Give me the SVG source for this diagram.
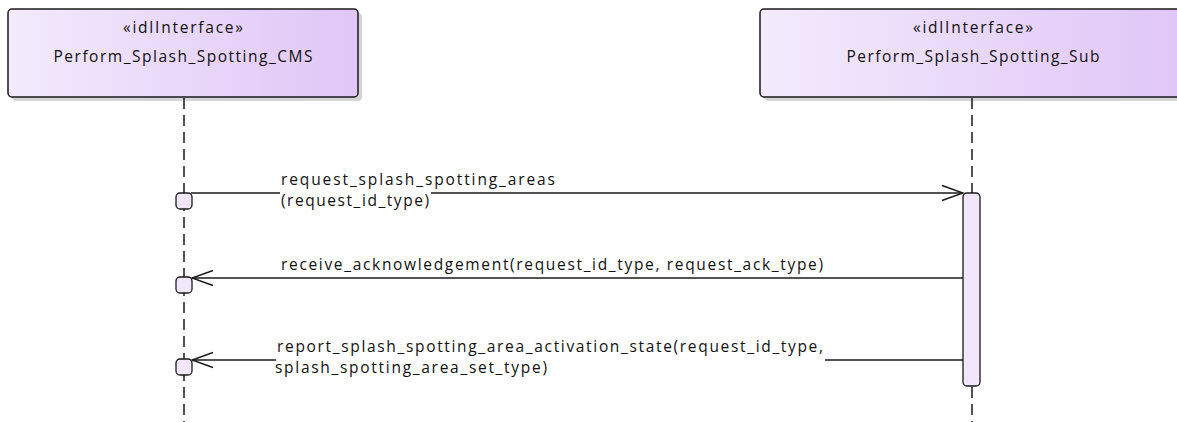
<svg xmlns="http://www.w3.org/2000/svg" width="1177" height="422" viewBox="0 0 1177 422">
<style>
.box{stroke:#1a1a1a;stroke-width:1.5}
.shadow{fill:#d4d4d4}
.life{stroke:#1a1a1a;stroke-width:1.5;stroke-dasharray:11 6;fill:none}
.msg{stroke:#1a1a1a;stroke-width:1.5;fill:none}
.act{fill:#f1e7fb;stroke:#1a1a1a;stroke-width:1.3}
.t{font-family:"Open Sans","Noto Sans",sans-serif;font-size:15.5px;fill:#111}
.bg{fill:#ffffff}
</style>
<defs>
<linearGradient id="g" x1="0" y1="0" x2="1" y2="0">
<stop offset="0" stop-color="#f3eafc"/>
<stop offset="1" stop-color="#e0c6f7"/>
</linearGradient>
<marker id="open" markerWidth="24" markerHeight="18" refX="22" refY="9" orient="auto" markerUnits="userSpaceOnUse">
<path d="M1,1.5 L22,9 L1,16.5" fill="none" stroke="#1a1a1a" stroke-width="1.5"/>
</marker>
</defs>
<rect width="1177" height="422" fill="#ffffff"/>
<g id="lifeline-cms">
<rect class="shadow" x="12" y="13" width="350" height="88" rx="4"/>
<rect class="box" x="8" y="9" width="350" height="88" rx="4" fill="url(#g)"/>
<text class="t" x="183" y="33" text-anchor="middle" textLength="120">«idlInterface»</text>
<text class="t" x="183" y="62" text-anchor="middle" textLength="259">Perform_Splash_Spotting_CMS</text>
<line class="life" x1="184" y1="98" x2="184" y2="422"/>
</g>
<g id="lifeline-sub">
<rect class="shadow" x="764" y="13" width="424" height="88" rx="4"/>
<rect class="box" x="760" y="9" width="424" height="88" rx="4" fill="url(#g)"/>
<text class="t" x="973" y="33" text-anchor="middle" textLength="120">«idlInterface»</text>
<text class="t" x="973" y="62" text-anchor="middle" textLength="253">Perform_Splash_Spotting_Sub</text>
<line class="life" x1="972" y1="98" x2="972" y2="422"/>
</g>
<g id="connectors">
<line class="msg" x1="191" y1="193" x2="963" y2="193" marker-end="url(#open)"/>
<rect class="bg" x="280" y="189" width="151" height="23"/>
<text class="t" x="281" y="185" textLength="274">request_splash_spotting_areas</text>
<text class="t" x="281" y="206" textLength="148">(request_id_type)</text>
<line class="msg" x1="963" y1="278" x2="192" y2="278" marker-end="url(#open)"/>
<text class="t" x="281" y="270" textLength="542">receive_acknowledgement(request_id_type, request_ack_type)</text>
<line class="msg" x1="963" y1="360" x2="192" y2="360" marker-end="url(#open)"/>
<rect class="bg" x="276" y="356" width="549" height="8"/>
<text class="t" x="277" y="352" textLength="546">report_splash_spotting_area_activation_state(request_id_type,</text>
<text class="t" x="275" y="373" textLength="272">splash_spotting_area_set_type)</text>
</g>
<g id="activation-sub">
<rect class="act" x="963" y="193" width="17" height="193" rx="4"/>
</g>
<g id="exec-cms">
<rect class="act" x="176" y="193" width="16" height="16" rx="4"/>
<rect class="act" x="176" y="277" width="16" height="16" rx="4"/>
<rect class="act" x="176" y="359" width="16" height="16" rx="4"/>
</g>
</svg>
